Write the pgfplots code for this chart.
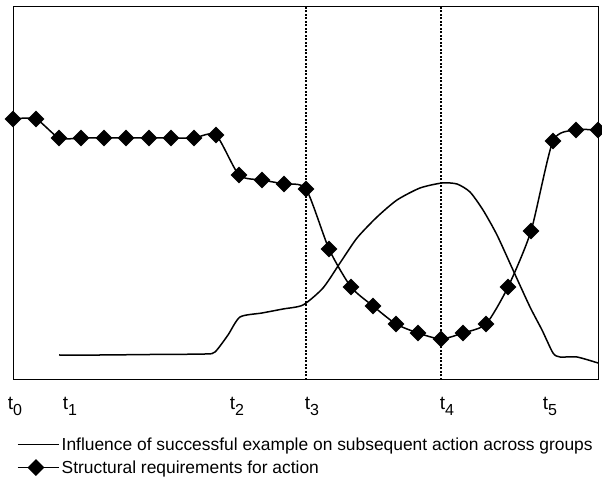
\documentclass[border=0pt]{standalone}
\usepackage{pgfplots}
\pgfplotsset{compat=1.18}
\usepackage{fontspec}
\setmainfont{Liberation Sans}
\newcommand{\tl}[1]{\fontsize{19}{20}\selectfont t\raisebox{-6pt}{\fontsize{16}{16}\selectfont #1}}
\begin{document}
\begin{tikzpicture}
\useasboundingbox (-13pt,-109pt) rectangle (589pt,380pt);
\begin{axis}[
  scale only axis,
  width=585pt, height=373pt,
  at={(0pt,0pt)}, anchor=south west,
  xmin=13, xmax=598, ymin=0, ymax=373,
  clip=false,
  axis line style={line width=1pt},
  ytick=\empty,
  xtick={15,70,237,312,447,550},
  xticklabels={\tl{0},\tl{1},\tl{2},\tl{3},\tl{4},\tl{5}},
  major tick length=0pt,
  xticklabel style={yshift=-14pt},
  legend style={at={(rel axis cs:0.0068,-0.148)}, anchor=north west, draw=none, fill=none,
    font=\fontsize{17.4}{20}\selectfont, row sep=5pt, inner sep=0pt, cells={anchor=west}},
  legend image code/.code={\path (0pt,0pt) -- (41pt,0pt);\draw[mark repeat=2,mark phase=2,#1] plot coordinates {(0pt,0pt) (18pt,0pt) (36pt,0pt)};},
]
\addplot[black, line width=1.5pt, smooth, tension=0.4, no marks] coordinates {
(59,25) (100,25) (150,25.5) (205,26) (215,28) (228,45) (240,63) (262,67) (283,71) (303,75)
(323,92) (340,117) (357,142) (377,163) (397,180) (420,192) (442,197) (457,196) (470,188)
(483,170) (497,145) (513,110) (530,73) (542,50) (553,27) (560,23) (577,23) (598,17)};
\addlegendentry{Influence of successful example on subsequent action across groups}
\addplot[black, line width=1.5pt, smooth, tension=0.4, mark=square*, mark size=5.2pt, mark options={rotate=45, solid}] coordinates {
(13,261) (36,261) (59,242) (81,242) (104,242) (126,242) (149,242) (171,242) (194,242) (216,245)
(239,205) (262,200) (284,196) (306,191) (329,131) (351,93) (373,74) (396,56) (418,47) (441,41)
(463,47) (486,56) (508,93) (531,149) (553,239) (576,250) (598,250)};
\addlegendentry{Structural requirements for action}
\addplot[black, line width=1.3pt, dash pattern=on 2pt off 1.5pt, forget plot] coordinates {(306,0) (306,373)};
\addplot[black, line width=1.3pt, dash pattern=on 2pt off 1.5pt, forget plot] coordinates {(441,0) (441,373)};
\end{axis}
\end{tikzpicture}
\end{document}
